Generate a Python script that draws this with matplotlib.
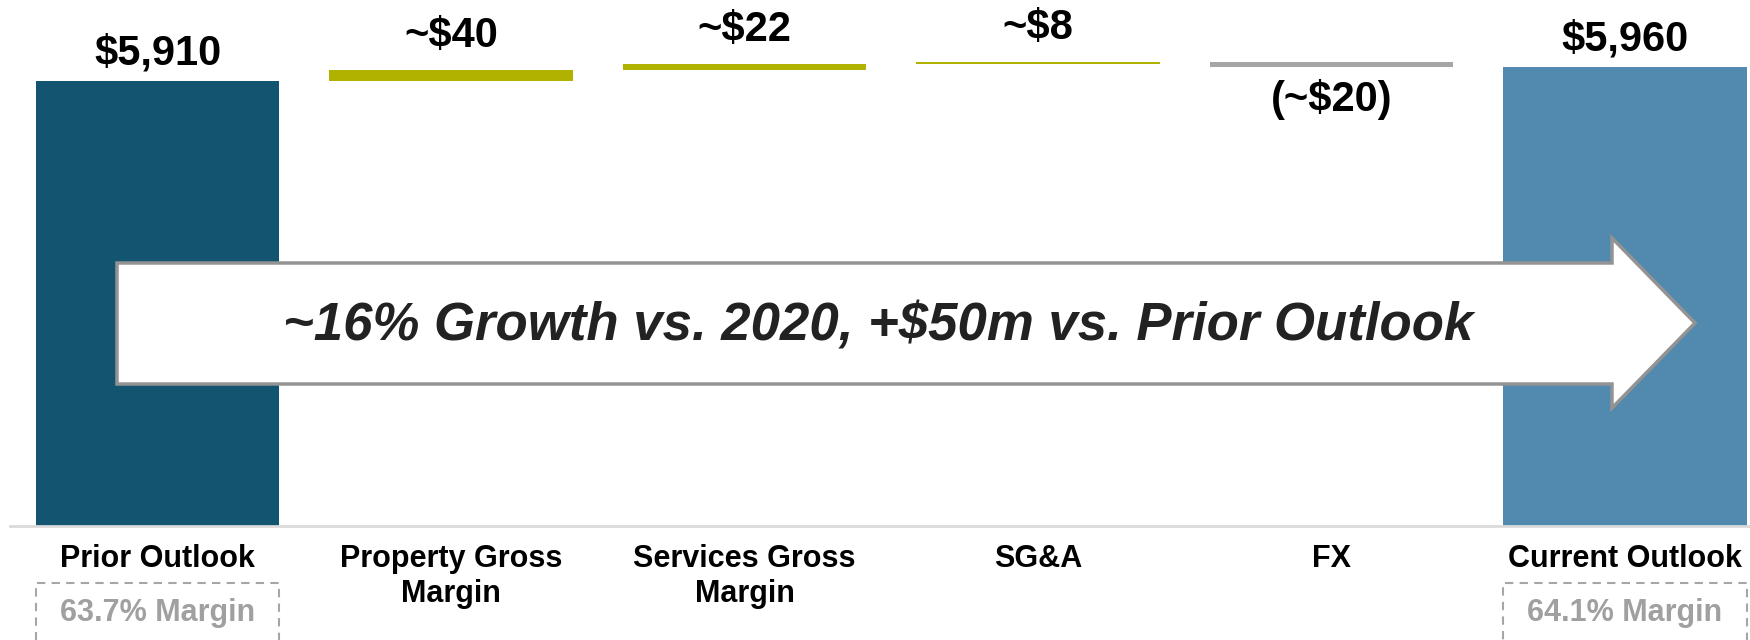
import numpy as np
import matplotlib
matplotlib.use('Agg')
import matplotlib.pyplot as plt
from matplotlib.patches import Polygon, Rectangle
from matplotlib.transforms import blended_transform_factory

plt.rcParams['font.family'] = ['Liberation Sans', 'DejaVu Sans']

#### data
categories = ['Prior Outlook', 'Property Gross\nMargin', 'Services Gross\nMargin',
              'SG&A', 'FX', 'Current Outlook']
prior_value = 5910
steps = [40, 22, 8, -20]
current_value = 5960
value_labels = ['$5,910', '~$40', '~$22', '~$8', '(~$20)', '$5,960']
margin_labels = ['63.7% Margin', '64.1% Margin']
arrow_text = '~16% Growth vs. 2020, +$50m vs. Prior Outlook'

prior_color = '#135470'
current_color = '#5289AE'
up_color = '#B1B100'
down_color = '#A6A6A6'

W, H = 1750, 640
fig = plt.figure(figsize=(W / 100, H / 100), dpi=100)
ax = fig.add_axes([10 / W, (H - 526) / H, 1740 / W, 526 / H])

ind = np.arange(len(categories))
width = 0.83

# waterfall pieces
running = np.concatenate(([prior_value], prior_value + np.cumsum(steps)))
step_bottom = [min(running[i], running[i + 1]) for i in range(len(steps))]
step_height = [abs(s) for s in steps]
step_color = [up_color if s > 0 else down_color for s in steps]

ax.bar(ind[0], prior_value, width, color=prior_color, zorder=2)
ax.bar(ind[1:5], step_height, width, bottom=step_bottom, color=step_color, zorder=2)
ax.bar(ind[5], current_value, width, color=current_color, zorder=2)

ax.set_xlim(-0.503, 5.426)
ax.set_ylim(4321, 6200)

# value labels
tops = [prior_value] + [b + h for b, h in zip(step_bottom, step_height)] + [current_value]
for i, lab in enumerate(value_labels):
    if i in (1, 2, 3, 4) and steps[i - 1] < 0:
        ax.annotate(lab, (i, step_bottom[i - 1]), xytext=(0, -32), textcoords='offset pixels',
                    ha='center', va='center', fontsize=30, fontweight='bold', color='black')
    else:
        off = 28 if i in (0, 5) else 34
        ax.annotate(lab, (i, tops[i]), xytext=(0, off), textcoords='offset pixels',
                    ha='center', va='center', fontsize=30, fontweight='bold', color='black')

# axes styling
for s in ['top', 'right', 'left']:
    ax.spines[s].set_visible(False)
ax.spines['bottom'].set_color('#DADADA')
ax.spines['bottom'].set_linewidth(2)
ax.set_yticks([])
ax.set_xticks(ind)
ax.set_xticklabels(categories, fontsize=22, fontweight='bold', linespacing=1.2)
ax.tick_params(axis='x', length=0, pad=13)

# dashed margin boxes under first and last bars
trans = blended_transform_factory(ax.transData, fig.transFigure)
for i, lab in zip([0, 5], margin_labels):
    ax.add_patch(Rectangle((i - width / 2, -0.05), width, (H - 583) / H + 0.05,
                           transform=trans, fill=False, edgecolor='#A6A6A6',
                           linewidth=1.5, linestyle=(0, (4, 3)), clip_on=False))
    ax.text(i, (H - 613) / H, lab, transform=trans, ha='center', va='center',
            fontsize=22, fontweight='bold', color='#A0A0A0')

# big arrow (pixel positions from the top-left of the picture)
pts = [(117, 263), (1612, 263), (1612, 238), (1695, 323), (1612, 408),
       (1612, 384), (117, 384)]
pts = [(x / W, 1 - y / H) for x, y in pts]
ax.add_patch(Polygon(pts, closed=True, transform=fig.transFigure, facecolor='white',
                     edgecolor='#939393', linewidth=2.5, zorder=5, clip_on=False))
fig.text(878 / W, 1 - 326 / H, arrow_text, ha='center', va='center', fontsize=38,
         fontweight='bold', fontstyle='italic', color='#222222', zorder=6)

fig.savefig('out.png', dpi=100)
